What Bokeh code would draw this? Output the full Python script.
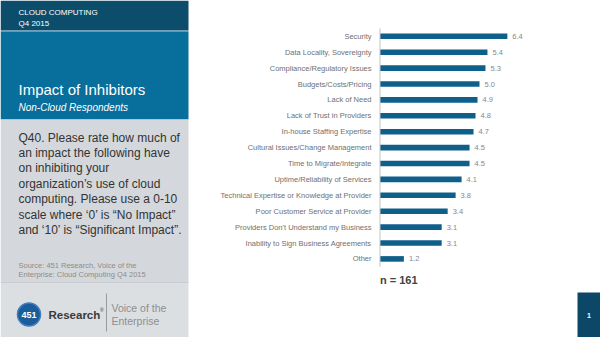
from bokeh.plotting import figure
from bokeh.models import Range1d, ColumnDataSource
from bokeh.core.properties import value
from bokeh.embed import file_html
from bokeh.resources import INLINE

# ---- data ----
categories = [
    "Security",
    "Data Locality, Sovereignty",
    "Compliance/Regulatory Issues",
    "Budgets/Costs/Pricing",
    "Lack of Need",
    "Lack of Trust in Providers",
    "In-house Staffing Expertise",
    "Cultural Issues/Change Management",
    "Time to Migrate/Integrate",
    "Uptime/Reliability of Services",
    "Technical Expertise or Knowledge at Provider",
    "Poor Customer Service at Provider",
    "Providers Don't Understand my Business",
    "Inability to Sign Business Agreements",
    "Other",
]
values = [6.4, 5.4, 5.3, 5.0, 4.9, 4.8, 4.7, 4.5, 4.5, 4.1, 3.8, 3.4, 3.1, 3.1, 1.2]
sample_note = "n = 161"

header_lines = ["CLOUD COMPUTING", "Q4 2015"]
title_text = "Impact of Inhibitors"
subtitle_text = "Non-Cloud Respondents"
question_lines = [
    "Q40. Please rate how much of",
    "an impact the following have",
    "on inhibiting your",
    "organization\u2019s use of cloud",
    "computing. Please use a 0-10",
    "scale where \u20180\u2019 is \u201cNo Impact\u201d",
    "and \u201810\u2019 is \u201cSignificant Impact\u201d.",
]
source_lines = ["Source: 451 Research, Voice of the", "Enterprise: Cloud Computing Q4 2015"]
page_number = "1"

FONT = "Liberation Sans"

# ---- figure in page pixel space ----
W, H = 600, 337
p = figure(width=W, height=H, x_range=Range1d(0, W), y_range=Range1d(H, 0),
           output_backend="svg", toolbar_location=None, min_border=0)
p.min_border_left = p.min_border_right = p.min_border_top = p.min_border_bottom = 0
p.axis.visible = False
p.grid.visible = False
p.outline_line_color = None
p.background_fill_color = "white"
p.border_fill_color = "white"

# scales for the bar chart
axis_px = 379.5
px_per_unit = 19.9
row0_px = 35.8
row_px = 15.9
p.extra_x_ranges = {"val": Range1d(-axis_px / px_per_unit, (W - axis_px) / px_per_unit)}
p.extra_y_ranges = {"idx": Range1d((H - row0_px) / row_px, -row0_px / row_px)}

# ---- left panel ----
p.quad(left=0, right=188, top=0, bottom=30, fill_color="#0d4d6c", line_color=None)
p.quad(left=0, right=188, top=30, bottom=31, fill_color="#5f9cba", line_color=None)
p.quad(left=0, right=188, top=31, bottom=119, fill_color="#086e9b", line_color=None)
p.quad(left=0, right=188, top=119, bottom=282, fill_color="#d4d8dc", line_color=None)
p.quad(left=0, right=188, top=282, bottom=337, fill_color="#dcdfe2", line_color=None)
p.segment(x0=0, x1=188, y0=282, y1=282, line_color="#c9cdd1", line_width=1)

p.text(x=18, y=[12, 23], text=header_lines, text_color="white",
       text_font=value(FONT), text_font_size="8px", text_baseline="middle")
p.text(x=18, y=[89], text=[title_text], text_color="white",
       text_font=value(FONT), text_font_size="15px", text_baseline="middle")
p.text(x=18, y=[107], text=[subtitle_text], text_color="white",
       text_font=value(FONT), text_font_size="10px", text_font_style="italic",
       text_baseline="middle")
p.text(x=18, y=[137 + 15.4 * i for i in range(len(question_lines))], text=question_lines,
       text_color="#333333", text_font=value(FONT), text_font_size="12px",
       text_baseline="middle")
p.text(x=18, y=[265, 274], text=source_lines, text_color="#8c8c8c",
       text_font=value(FONT), text_font_size="7.5px", text_baseline="middle")

# logo
p.scatter(x=[28.5], y=[314], size=23, marker="circle", fill_color="#1b5c9b",
          line_color="#3f7fbf", line_width=1.5)
p.text(x=[28.5], y=[314.5], text=["451"], text_color="white", text_font=value(FONT),
       text_font_size="9px", text_font_style="bold", text_align="center",
       text_baseline="middle")
p.text(x=[48], y=[314.5], text=["Research"], text_color="#3a3a3a", text_font=value(FONT),
       text_font_size="11.5px", text_font_style="bold", text_baseline="middle")
p.text(x=[99.5], y=[309], text=["\u00ae"], text_color="#3a3a3a", text_font=value(FONT),
       text_font_size="5px", text_baseline="middle")
p.segment(x0=106, x1=106, y0=293, y1=331, line_color="#9a9a9a", line_width=1)
p.text(x=111, y=[307.5, 320], text=["Voice of the", "Enterprise"], text_color="#8e8e8e",
       text_font=value(FONT), text_font_size="10.5px", text_baseline="middle")

# page number box
p.quad(left=577, right=600, top=292, bottom=337, fill_color="#0c4767", line_color=None)
p.text(x=[588.5], y=[315], text=[page_number], text_color="white", text_font=value(FONT),
       text_font_size="7px", text_font_style="bold", text_align="center",
       text_baseline="middle")

# ---- bar chart ----
idx = list(range(len(categories)))
src = ColumnDataSource(dict(idx=idx, cat=categories, val=values,
                            lab=[f"{v:.1f}" for v in values]))

p.hbar(y="idx", left=0, right="val", height=0.35, fill_color="#0f5f8b", line_color=None,
       source=src, x_range_name="val", y_range_name="idx")
p.segment(x0=0, x1=0, y0=-0.5, y1=len(categories) - 0.5, line_color="#c4c4c4",
          line_width=1, x_range_name="val", y_range_name="idx")
p.text(x=0, y="idx", text="cat", source=src, x_offset=-8.5, text_align="right",
       text_baseline="middle", text_color="#707070", text_font=value(FONT),
       text_font_size="7.5px", x_range_name="val", y_range_name="idx")
p.text(x="val", y="idx", text="lab", source=src, x_offset=5, text_align="left",
       text_baseline="middle", text_color="#888888", text_font=value(FONT),
       text_font_size="7.5px", x_range_name="val", y_range_name="idx")
p.text(x=[0], y=[len(categories) + 0.35], text=[sample_note], text_align="left",
       text_baseline="middle", text_color="#444444", text_font=value(FONT),
       text_font_size="11px", text_font_style="bold",
       x_range_name="val", y_range_name="idx")

open("out.html", "w").write(file_html(p, INLINE))
